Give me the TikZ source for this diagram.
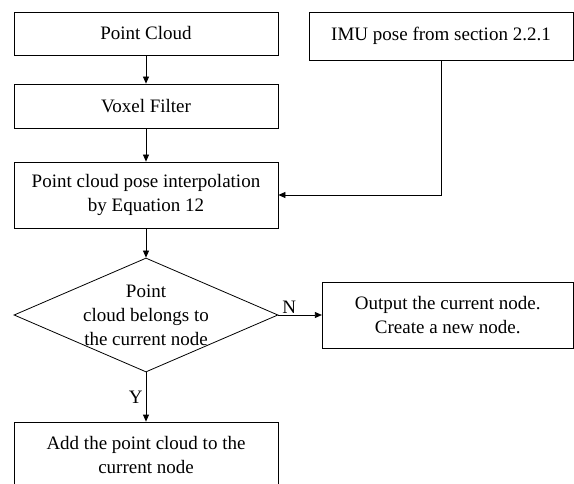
\documentclass[tikz,border=0pt]{standalone}
\usepackage{fontspec}
\setmainfont{Liberation Serif}
\usetikzlibrary{shapes.geometric,arrows.meta}
\begin{document}
\begin{tikzpicture}[x=1pt,y=-1pt,
  txt/.style={font=\fontsize{19}{24}\selectfont, align=center},
  box/.style={txt, draw, line width=0.8pt, minimum width=264pt, inner sep=0pt},
  arr/.style={draw, line width=0.8pt, -{Triangle[length=7pt,width=6pt]}},
  lbl/.style={font=\fontsize{19}{20}\selectfont, inner sep=1pt}]
\useasboundingbox (0,0) rectangle (574,484);
\node[box, minimum height=43pt] (pc) at (146,33.5) {Point Cloud};
\node[box, minimum height=48pt] (imu) at (441,36) {IMU pose from section 2.2.1};
\node[box, minimum height=44pt] (vox) at (146,106) {Voxel Filter};
\node[box, minimum height=66pt] (interp) at (146,195) {Point cloud pose interpolation\\by Equation 12};
\node[diamond, draw, line width=0.8pt, minimum width=264pt, minimum height=114pt, inner sep=0pt] (dia) at (146,315) {};
\node[txt, inner sep=0pt] (diatext) at (146,315) {Point\\cloud belongs to\\the current node};
\node[box, minimum width=251pt, minimum height=66pt] (out) at (447.75,315) {Output the current node.\\Create a new node.};
\node[box, minimum height=66pt] (add) at (146,455) {Add the point cloud to the\\current node};
\draw[arr] (pc) -- (vox);
\draw[arr] (vox) -- (interp);
\draw[arr] (interp) -- (dia);
\draw[arr] (imu.south) |- (interp.east);
\draw[arr] (dia.east) -- node[lbl, pos=0.25, anchor=south] {N} (out.west);
\draw[arr] (dia.south) -- node[lbl, left, inner sep=3pt] {Y} (add.north);
\end{tikzpicture}
\end{document}
